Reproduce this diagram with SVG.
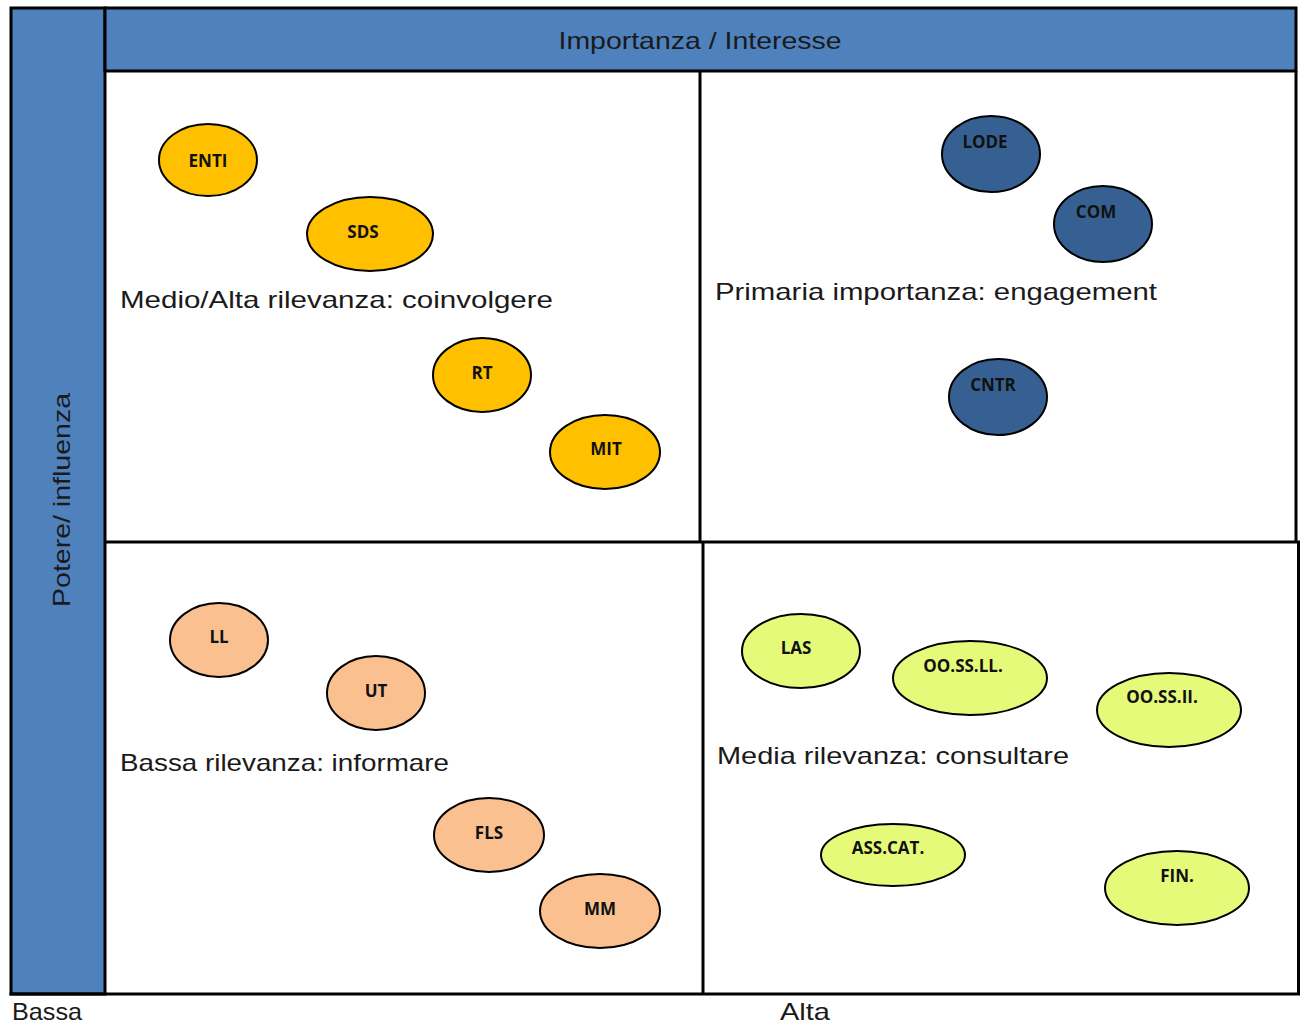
<svg xmlns="http://www.w3.org/2000/svg" width="1300" height="1023" viewBox="0 0 1300 1023">
<style>
.bar{fill:#4F81BD;stroke:#000;stroke-width:3}
.line{stroke:#000;stroke-width:3;fill:none}
.lbl{font-family:"Liberation Sans",Arial,sans-serif;font-size:24px;fill:#1a1a1a}
.nt{font-family:"Open Sans","Liberation Sans",sans-serif;font-weight:bold;font-size:17px;fill:#111;text-anchor:middle}
.or{fill:#FFC000;stroke:#000;stroke-width:2}
.bl{fill:#366092;stroke:#000;stroke-width:2}
.pe{fill:#FAC090;stroke:#000;stroke-width:2}
.ye{fill:#E6FA7A;stroke:#000;stroke-width:2}
</style>
<rect width="1300" height="1023" fill="#fff"/>
<g id="frame">
<rect class="bar" x="11" y="8" width="94" height="986"/>
<rect class="bar" x="105" y="8" width="1191" height="63"/>
<line class="line" x1="1296" y1="71" x2="1296" y2="542"/>
<line class="line" x1="1298.5" y1="542" x2="1298.5" y2="994"/>
<line class="line" x1="700" y1="71" x2="700" y2="542"/>
<line class="line" x1="703" y1="542" x2="703" y2="994"/>
<line class="line" x1="105" y1="542" x2="1300" y2="542"/>
<line class="line" x1="9.5" y1="994" x2="1300" y2="994"/>
</g>
<g id="axis-labels">
<text class="lbl" x="700" y="49" text-anchor="middle" textLength="283" lengthAdjust="spacingAndGlyphs">Importanza / Interesse</text>
<text class="lbl" transform="translate(70,500) rotate(-90)" text-anchor="middle" textLength="214" lengthAdjust="spacingAndGlyphs">Potere/ influenza</text>
<text class="lbl" x="12" y="1020" textLength="70" lengthAdjust="spacingAndGlyphs">Bassa</text>
<text class="lbl" x="780" y="1020" textLength="50" lengthAdjust="spacingAndGlyphs">Alta</text>
</g>
<g id="quadrant-labels">
<text class="lbl" x="120" y="308" textLength="433" lengthAdjust="spacingAndGlyphs">Medio/Alta rilevanza: coinvolgere</text>
<text class="lbl" x="715" y="300" textLength="442" lengthAdjust="spacingAndGlyphs">Primaria importanza: engagement</text>
<text class="lbl" x="120" y="771" textLength="329" lengthAdjust="spacingAndGlyphs">Bassa rilevanza: informare</text>
<text class="lbl" x="717" y="764" textLength="352" lengthAdjust="spacingAndGlyphs">Media rilevanza: consultare</text>
</g>
<g id="node-ENTI"><ellipse class="or" cx="208" cy="160" rx="49" ry="36"/><text class="nt" x="208" y="167">ENTI</text></g>
<g id="node-SDS"><ellipse class="or" cx="370" cy="234" rx="63" ry="37"/><text class="nt" x="363" y="238">SDS</text></g>
<g id="node-RT"><ellipse class="or" cx="482" cy="375" rx="49" ry="37"/><text class="nt" x="482" y="379">RT</text></g>
<g id="node-MIT"><ellipse class="or" cx="605" cy="452" rx="55" ry="37"/><text class="nt" x="606" y="455">MIT</text></g>
<g id="node-LODE"><ellipse class="bl" cx="991" cy="154" rx="49" ry="38"/><text class="nt" x="985" y="148">LODE</text></g>
<g id="node-COM"><ellipse class="bl" cx="1103" cy="224" rx="49" ry="38"/><text class="nt" x="1096" y="218">COM</text></g>
<g id="node-CNTR"><ellipse class="bl" cx="998" cy="397" rx="49" ry="38"/><text class="nt" x="993" y="391">CNTR</text></g>
<g id="node-LL"><ellipse class="pe" cx="219" cy="640" rx="49" ry="37"/><text class="nt" x="219" y="643">LL</text></g>
<g id="node-UT"><ellipse class="pe" cx="376" cy="693" rx="49" ry="37"/><text class="nt" x="376" y="697">UT</text></g>
<g id="node-FLS"><ellipse class="pe" cx="489" cy="835" rx="55" ry="37"/><text class="nt" x="489" y="839">FLS</text></g>
<g id="node-MM"><ellipse class="pe" cx="600" cy="911" rx="60" ry="37"/><text class="nt" x="600" y="915">MM</text></g>
<g id="node-LAS"><ellipse class="ye" cx="801" cy="651" rx="59" ry="37"/><text class="nt" x="796" y="654">LAS</text></g>
<g id="node-OOSSLL"><ellipse class="ye" cx="970" cy="678" rx="77" ry="37"/><text class="nt" x="963" y="672">OO.SS.LL.</text></g>
<g id="node-OOSSII"><ellipse class="ye" cx="1169" cy="710" rx="72" ry="37"/><text class="nt" x="1162" y="703">OO.SS.II.</text></g>
<g id="node-ASSCAT"><ellipse class="ye" cx="893" cy="855" rx="72" ry="31"/><text class="nt" x="888" y="854">ASS.CAT.</text></g>
<g id="node-FIN"><ellipse class="ye" cx="1177" cy="888" rx="72" ry="37"/><text class="nt" x="1177" y="882">FIN.</text></g>
<g id="connectors"></g>
</svg>
